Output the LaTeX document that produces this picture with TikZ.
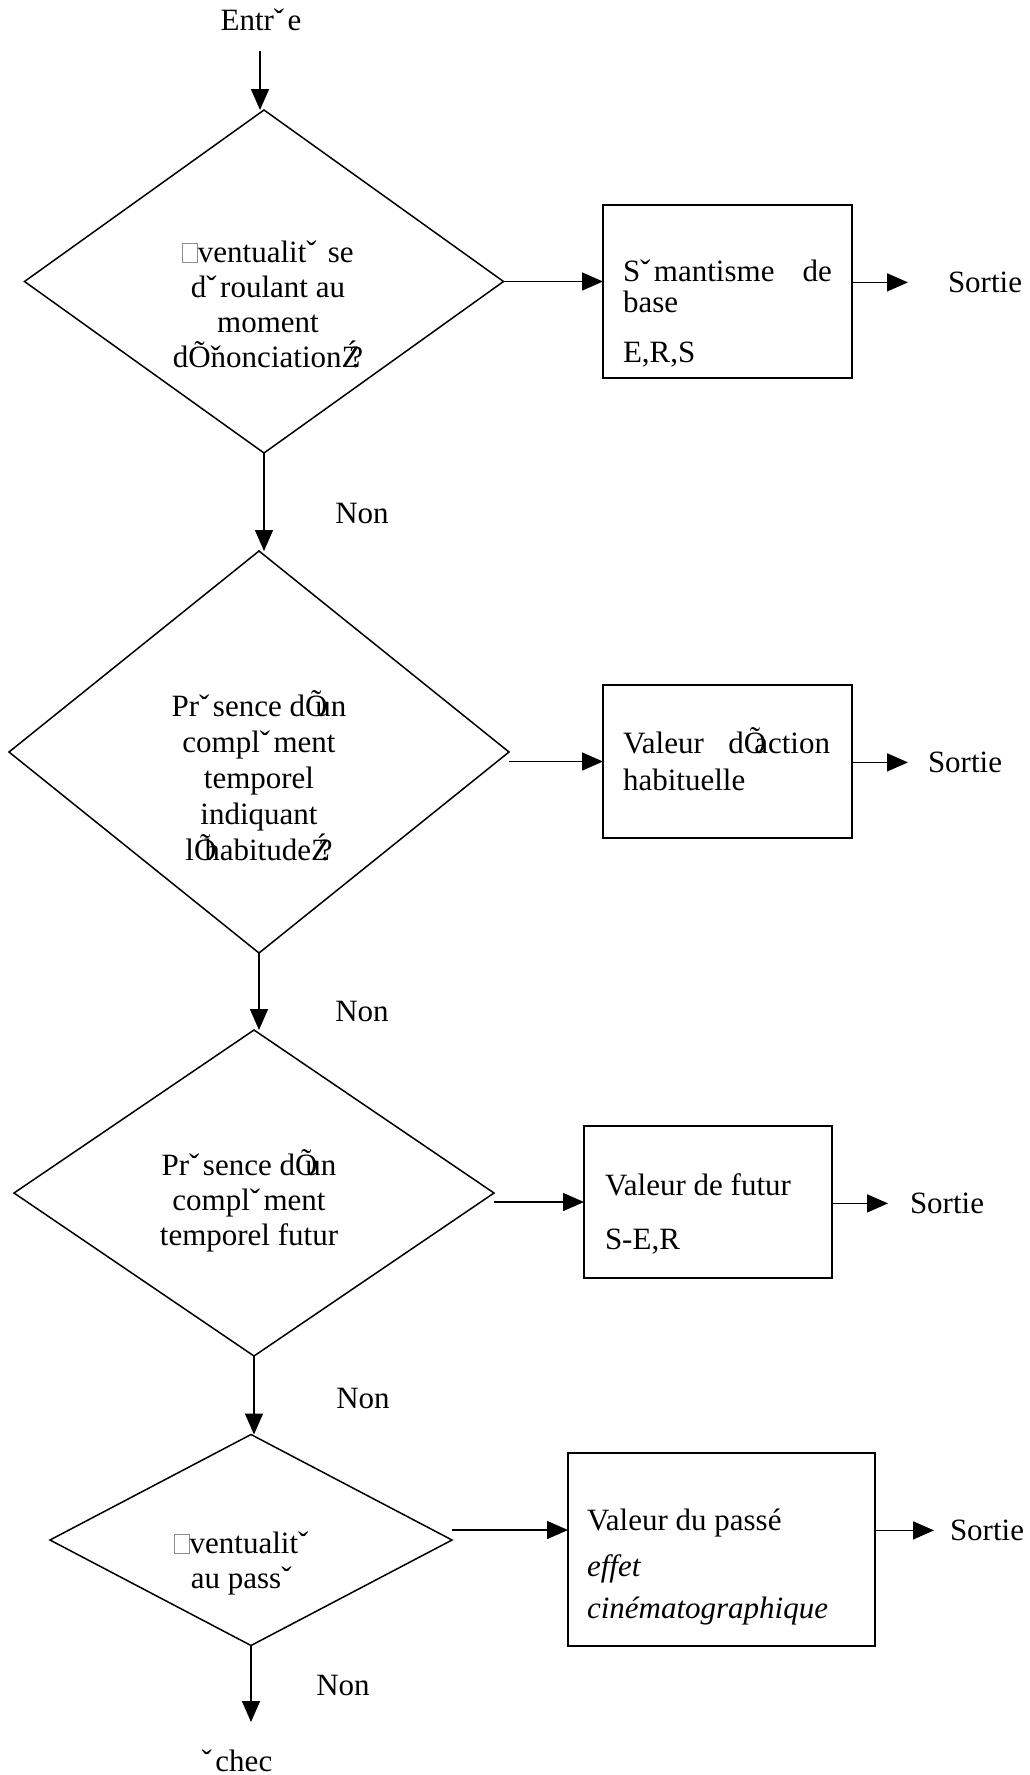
\documentclass[tikz,border=0pt]{standalone}
\usepackage{fontspec}
\setmainfont{Liberation Serif}
\usetikzlibrary{shapes.geometric,arrows.meta}
\newcommand\mjQ{Õ\kern-0.39em}
\newcommand\mjE{ˇ\kern0.11em}
\newcommand\mjZ{Ź\kern-0.36em}
\newcommand\mjB{{\color{black!45}\setlength\fboxsep{0pt}\setlength\fboxrule{0.8pt}\fbox{\rule{0pt}{0.6em}\hspace{0.45em}}}}
\begin{document}
\begin{tikzpicture}[x=1pt,y=-1pt,
  txt/.style={inner sep=0pt, outer sep=0pt, font=\fontsize{31}{35}\selectfont},
  dtxt/.style={txt, align=center, anchor=base},
  btxt/.style={txt, align=left, anchor=base west},
  dec/.style={draw, diamond, line width=1.5pt, inner sep=0pt, outer sep=0pt},
  boxn/.style={draw, rectangle, line width=1.8pt, inner sep=0pt, outer sep=0pt},
  arr/.style={line width=1.5pt, -{Triangle[length=21pt,width=18pt]}}
]
\useasboundingbox (0,0) rectangle (1030,1775);

% entry
\node[txt, anchor=base] (entree) at (261,30) {Entr\mjE e};
\coordinate (a0) at (260,51);

% decisions (text nodes anchored at the baseline of their last line)
\node[dec, minimum width=479pt, minimum height=343pt] (d1) at (264,281.5) {};
\node[dtxt] (t1) at (268,367) {\mjB ventualit\mjE{} se\\d\mjE roulant au\\moment\\dÕ\rlap{ˇ}nonciation\mjZ ?};

\node[dec, minimum width=500pt, minimum height=402pt] (d2) at (259,752) {};
\node[dtxt] (t2) at (259,860) {Pr\mjE sence d\mjQ un\\[1pt]compl\mjE ment\\[1pt]temporel\\[1pt]indiquant\\[1pt]l\mjQ habitude\mjZ ?};

\node[dec, minimum width=480pt, minimum height=326pt] (d3) at (254,1193) {};
\node[dtxt] (t3) at (249,1245) {Pr\mjE sence d\mjQ un\\compl\mjE ment\\temporel futur};

\node[dec, minimum width=402pt, minimum height=211pt] (d4) at (251,1540) {};
\node[dtxt] (t4) at (243,1588) {\mjB ventualit\mjE\\au pass\mjE};

% Non labels
\node[txt, anchor=base] (n1) at (362,523) {Non};
\node[txt, anchor=base] (n2) at (362,1021) {Non};
\node[txt, anchor=base] (n3) at (363,1408) {Non};
\node[txt, anchor=base] (n4) at (343,1695) {Non};
\node[txt, anchor=base] (echec) at (237,1771) {\mjE chec};
\coordinate (a4) at (251,1722);

% boxes
\node[boxn, minimum width=249pt, minimum height=173pt] (b1) at (727.5,291.5) {};
\node[btxt] (bt1) at (623,362) {\makebox[209pt][s]{S\mjE mantisme de}\\[-4pt]base\\[15pt]E,R,S};

\node[boxn, minimum width=249pt, minimum height=153pt] (b2) at (727.5,761.5) {};
\node[btxt] (bt2) at (623,790) {\makebox[207pt][s]{Valeur d\mjQ action}\\[2pt]habituelle};

\node[boxn, minimum width=248pt, minimum height=152pt] (b3) at (708,1202) {};
\node[btxt] (bt3) at (605,1249) {Valeur de futur\\[19pt]S-E,R};

\node[boxn, minimum width=307pt, minimum height=193pt] (b4) at (721.5,1549.5) {};
\node[btxt] (bt4) at (587,1618) {Valeur du passé\\[11pt]\textit{effet}\\[7pt]\textit{cinématographique}};

% exits
\node[txt, anchor=base west] (s1) at (948,292.5) {Sortie};
\node[txt, anchor=base west] (s2) at (928,772.5) {Sortie};
\node[txt, anchor=base west] (s3) at (910,1213.5) {Sortie};
\node[txt, anchor=base west] (s4) at (950,1540.5) {Sortie};

% vertical connectors
\draw[arr] (a0) -- (a0 |- d1.north);
\draw[arr] (d1.south) -- (d1.south |- d2.north);
\draw[arr] (d2.south) -- (d2.south |- d3.north);
\draw[arr] (d3.south) -- (d3.south |- d4.north);
\draw[arr] (d4.south) -- (a4);

% horizontal connectors
\draw[arr] (d1.east) -- (d1.east -| b1.west);
\draw[arr] (b2.west -| d2.east) -- (b2.west);
\draw[arr] (b3.west -| d3.east) -- (b3.west);
\draw[arr] ([yshift=10pt]d4.east) -- ([yshift=10pt]d4.east -| b4.west);

% exit connectors
\draw[arr] (b1.east |- s1.west) -- ([xshift=-40pt]s1.west);
\draw[arr] (b2.east |- s2.west) -- ([xshift=-20pt]s2.west);
\draw[arr] (b3.east |- s3.west) -- ([xshift=-22pt]s3.west);
\draw[arr] (b4.east |- s4.west) -- ([xshift=-16pt]s4.west);
\end{tikzpicture}
\end{document}
